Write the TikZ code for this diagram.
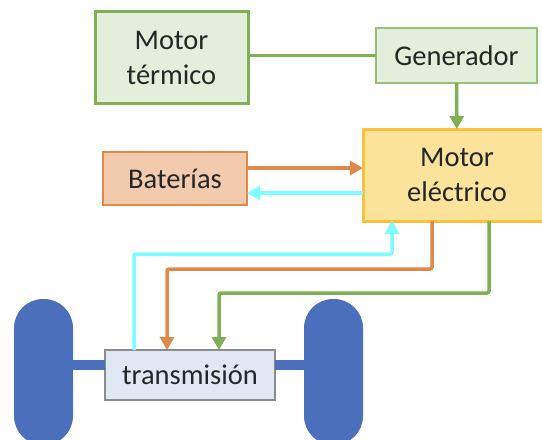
\documentclass[tikz,border=0pt]{standalone}
\usepackage{fontspec}
\setmainfont{Carlito}
\usepackage{xcolor}
\usetikzlibrary{arrows.meta,positioning}
\definecolor{greenline}{HTML}{7FB056}
\definecolor{greenfill}{HTML}{E3EEDB}
\definecolor{orangeline}{HTML}{E08848}
\definecolor{orangefill}{HTML}{F2CBAE}
\definecolor{yellowline}{HTML}{F9C23C}
\definecolor{yellowfill}{HTML}{FBE39C}
\definecolor{wheelblue}{HTML}{4B6FBB}
\definecolor{transfill}{HTML}{DFE8F3}
\definecolor{cyanline}{HTML}{7DFDFF}

\begin{document}
\begin{tikzpicture}[x=1pt, y=-1pt,
    pbox/.style={rectangle, draw, outer sep=0pt, inner sep=0pt, align=center, text=black!85, font=\fontsize{28.5}{35}\selectfont},
    wheel/.style={rectangle, fill=wheelblue, outer sep=0pt, minimum width=59pt, minimum height=146pt, rounded corners=29pt},
    flow/.style={line width=3.5pt, rounded corners=2pt, -{Triangle[length=13pt,width=14pt]}}]

    \useasboundingbox (0,0) rectangle (542,440);

    \node[pbox, line width=3pt, draw=greenline, fill=greenfill, minimum width=153pt, minimum height=92pt] (termico) at (171.5,57.5) {Motor\\térmico};
    \node[pbox, line width=2pt, draw=greenline!80, fill=greenfill, minimum width=161pt, minimum height=55pt, right=128pt of termico, yshift=2pt] (gen) {Generador};
    \node[pbox, line width=3pt, draw=yellowline, fill=yellowfill, minimum width=188pt, minimum height=92pt] (elec) at (457,175) {Motor\\eléctrico};
    \node[pbox, line width=2pt, draw=orangeline, fill=orangefill, minimum width=144pt, minimum height=53pt, left=116pt of elec, yshift=-3.5pt] (bat) {Baterías};
    \node[pbox, line width=1.5pt, draw=black!45, fill=transfill, minimum width=170pt, minimum height=50pt] (trans) at (190,375) {transmisión};
    \node[wheel, left=32pt of trans, yshift=3pt] (wheelL) {};
    \node[wheel, right=29pt of trans, yshift=3pt] (wheelR) {};

    \draw[line width=10pt, wheelblue] ([yshift=10pt]trans.west) -- ([yshift=10pt]trans.west -| wheelL.east);
    \draw[line width=10pt, wheelblue] ([yshift=10pt]trans.east) -- ([yshift=10pt]trans.east -| wheelR.west);

    \draw[line width=3.5pt, greenline] (gen.west -| termico.east) -- (gen.west);
    \draw[flow, greenline] (gen) -- (elec);
    \draw[flow, orangeline] ([yshift=10.5pt]bat.east) -- ([yshift=7pt]elec.west);
    \draw[flow, cyanline] ([yshift=-18pt]elec.west) -- ([yshift=-14.5pt]bat.east);
    \draw[flow, cyanline] ([xshift=29pt]trans.north west) -- ++(0,-96) -| ([xshift=29pt]elec.south west);
    \draw[flow, orangeline] ([xshift=69pt]elec.south west) -- ++(0,48) -| ([xshift=62pt]trans.north west);
    \draw[flow, greenline] ([xshift=126pt]elec.south west) -- ++(0,72) -| ([xshift=114pt]trans.north west);

\end{tikzpicture}
\end{document}
